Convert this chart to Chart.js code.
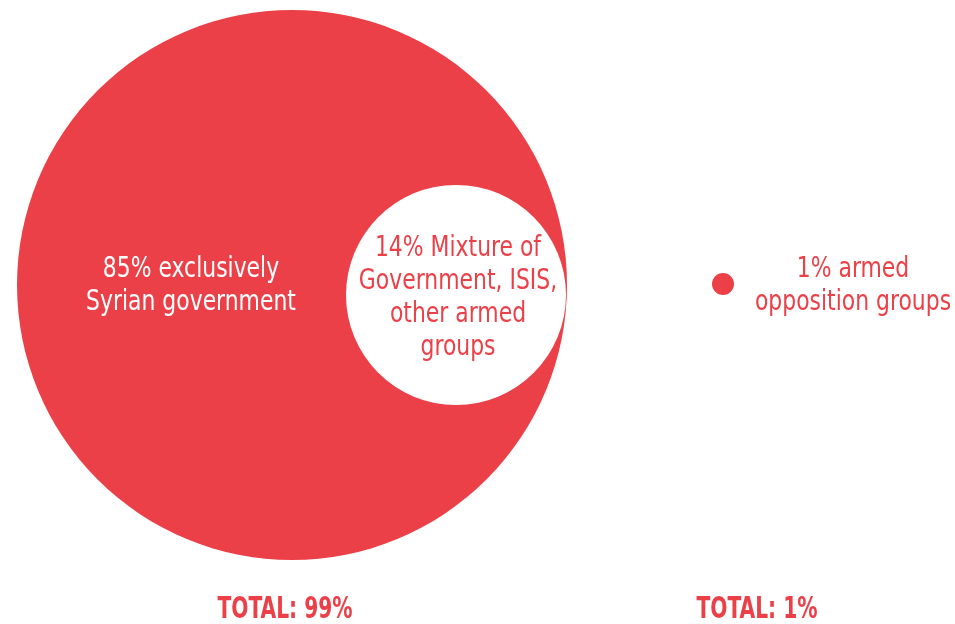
<!DOCTYPE html>
<html>
<head>
<meta charset="utf-8">
<script src="https://cdn.jsdelivr.net/npm/chart.js@4"></script>
<style>
  html, body { margin: 0; padding: 0; background: #fff; }
  #wrap { width: 955px; height: 624px; }
</style>
</head>
<body>
<div id="wrap"><canvas id="chart"></canvas></div>
<script>
// circles: centre x, centre y and radius, all in the chart's own units
const circleNames = ["Exclusively Syrian government", "Mixture", "Armed opposition groups"];
const circleX = [292, 456, 723];
const circleY = [285, 295, 284];
const circleR = [275, 110, 11];

// text blocks
const labelLines = [
  ["85% exclusively", "Syrian government"],
  ["14% Mixture of", "Government, ISIS,", "other armed", "groups"],
  ["1% armed", "opposition groups"],
];
const labelX = [191, 458, 853];
const labelY = [286, 298, 286];
const totals = ["TOTAL: 99%", "TOTAL: 1%"];
const totalX = [285, 757];
const totalY = [610, 610];

const RED = "#ec4049";
const FONT = "'Liberation Sans Narrow', 'DejaVu Sans Condensed', 'Roboto Condensed', sans-serif";

// draw text squeezed sideways to look like the narrow face in the original
function narrowText(ctx, t, px, py, sx) {
  ctx.save();
  ctx.translate(px, py);
  ctx.scale(sx, 1);
  ctx.fillText(t, 0, 0);
  ctx.restore();
}

const textPlugin = {
  id: "textPlugin",
  afterDatasetsDraw(chart) {
    const { ctx, scales: { x, y } } = chart;
    const colors = ["#ffffff", RED, RED];
    ctx.save();
    ctx.textAlign = "center";
    ctx.textBaseline = "middle";
    ctx.font = "29px " + FONT;
    labelLines.forEach((lines, i) => {
      ctx.fillStyle = colors[i];
      const lh = 33;
      const top = y.getPixelForValue(labelY[i]) - (lines.length - 1) * lh / 2;
      lines.forEach((t, j) => narrowText(ctx, t, x.getPixelForValue(labelX[i]), top + j * lh, 0.84));
    });
    ctx.font = "bold 30px " + FONT;
    ctx.fillStyle = RED;
    totals.forEach((t, i) => narrowText(ctx, t, x.getPixelForValue(totalX[i]), y.getPixelForValue(totalY[i]), 0.75));
    ctx.restore();
  }
};

new Chart(document.getElementById("chart"), {
  type: "bubble",
  data: {
    datasets: [{
      label: "Share",
      data: circleX.map((cx, i) => ({ x: cx, y: circleY[i], r: circleR[i], name: circleNames[i] })),
      backgroundColor: [RED, "#ffffff", RED],
      borderWidth: 0,
      hoverBorderWidth: 0,
      clip: false,
      // radius given in axis units, turned into pixels through the x scale
      radius: c => {
        const s = c.chart.scales.x;
        const r = c.raw ? c.raw.r : 0;
        return Math.abs(s.getPixelForValue(r) - s.getPixelForValue(0));
      },
    }],
  },
  options: {
    responsive: true,
    maintainAspectRatio: false,
    animation: false,
    layout: { padding: 0, autoPadding: false },
    plugins: { legend: { display: false }, tooltip: { enabled: false } },
    events: [],
    scales: {
      x: { type: "linear", min: 0, max: 955, display: false },
      y: { type: "linear", min: 0, max: 624, reverse: true, display: false },
    },
  },
  plugins: [textPlugin],
});
</script>
</body>
</html>
